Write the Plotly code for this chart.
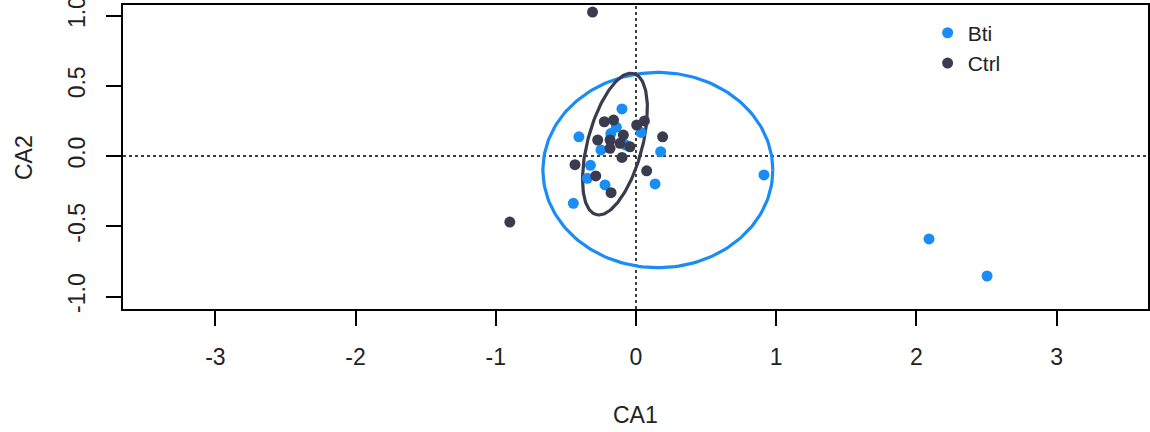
import numpy as np
import plotly.graph_objects as go

# Site scores on the first two CA axes, grouped by treatment
bti_ca1 = [-0.10, -0.14, -0.18, -0.407, -0.25, -0.073, 0.036, 0.176,
           -0.325, -0.347, -0.221, -0.447, 0.136, 0.913, 2.09, 2.504]
bti_ca2 = [0.335, 0.205, 0.16, 0.137, 0.043, 0.078, 0.168, 0.031,
           -0.066, -0.159, -0.206, -0.337, -0.199, -0.135, -0.59, -0.854]

ctrl_ca1 = [-0.31, -0.90, -0.226, -0.16, -0.273, -0.185, -0.09, -0.114,
            -0.043, -0.10, -0.185, 0.005, 0.06, 0.19, -0.435, -0.287,
            -0.178, 0.076]
ctrl_ca2 = [1.025, -0.47, 0.244, 0.256, 0.114, 0.114, 0.149, 0.09,
            0.066, -0.01, 0.055, 0.22, 0.25, 0.137, -0.062, -0.142,
            -0.261, -0.105]

# Group ellipses: centre, semi-axes and rotation (degrees)
ell_groups = ["Bti", "Ctrl"]
ell_cx = [0.156, -0.150]
ell_cy = [-0.100, 0.085]
ell_a = [0.820, 0.520]
ell_b = [0.695, 0.195]
ell_angle = [0.0, 75.0]

colors = {"Bti": "#1a8cf5", "Ctrl": "#3b3b4f"}

x_ticks = [-3, -2, -1, 0, 1, 2, 3]
y_ticks = [-1.0, -0.5, 0.0, 0.5, 1.0]

fig = go.Figure()

# ellipses
t = np.linspace(0, 2 * np.pi, 200)
for g, cx, cy, a, b, ang in zip(ell_groups, ell_cx, ell_cy, ell_a, ell_b, ell_angle):
    th = np.deg2rad(ang)
    ex = cx + a * np.cos(t) * np.cos(th) - b * np.sin(t) * np.sin(th)
    ey = cy + a * np.cos(t) * np.sin(th) + b * np.sin(t) * np.cos(th)
    fig.add_trace(go.Scatter(x=ex, y=ey, mode="lines",
                             line=dict(color=colors[g], width=3.2),
                             showlegend=False, hoverinfo="skip"))

fig.add_trace(go.Scatter(x=bti_ca1, y=bti_ca2, mode="markers", name="Bti",
                         marker=dict(color=colors["Bti"], size=11)))
fig.add_trace(go.Scatter(x=ctrl_ca1, y=ctrl_ca2, mode="markers", name="Ctrl",
                         marker=dict(color=colors["Ctrl"], size=11)))

# reference lines through the origin
fig.add_shape(type="line", xref="x", yref="paper", x0=0, x1=0, y0=0, y1=1,
              line=dict(color="black", width=1.5, dash="dot"), layer="below")
fig.add_shape(type="line", xref="paper", yref="y", x0=0, x1=1, y0=0, y1=0,
              line=dict(color="black", width=1.5, dash="dot"), layer="below")

axis_font = dict(family="Liberation Sans, Arial, sans-serif", size=23, color="#222")

fig.update_xaxes(range=[-3.659, 3.652], tickvals=x_ticks,
                 ticktext=[str(v) for v in x_ticks], automargin=False,
                 showgrid=False, zeroline=False, showline=True, mirror=True,
                 linecolor="black", linewidth=1.5, ticks="outside", ticklen=15,
                 tickwidth=1.5, tickcolor="black", tickfont=axis_font,
                 ticklabelstandoff=12)
fig.update_yaxes(range=[-1.089, 1.075], tickvals=y_ticks,
                 ticktext=[f"{v:.1f}" for v in y_ticks], tickangle=-90,
                 automargin=False,
                 showgrid=False, zeroline=False, showline=True, mirror=True,
                 linecolor="black", linewidth=1.5, ticks="outside", ticklen=15,
                 tickwidth=1.5, tickcolor="black", tickfont=axis_font,
                 ticklabelstandoff=12, ticklabeloverflow="allow")

fig.add_annotation(text="CA1", xref="paper", yref="paper", x=0.5, y=-0.349,
                   xanchor="center", yanchor="middle", showarrow=False,
                   font=axis_font)
fig.add_annotation(text="CA2", xref="paper", yref="paper", x=-0.0966, y=0.5,
                   xanchor="center", yanchor="middle", showarrow=False,
                   textangle=-90, font=axis_font)

fig.update_layout(
    width=1150, height=432,
    margin=dict(l=123, r=2, t=5, b=123, autoexpand=False),
    paper_bgcolor="white", plot_bgcolor="white",
    legend=dict(x=0.785, y=0.975, xanchor="left", yanchor="top",
                font=dict(family="Liberation Sans, Arial, sans-serif", size=21, color="#222"),
                bgcolor="rgba(0,0,0,0)", tracegroupgap=0),
)

fig.write_html("out.html")
